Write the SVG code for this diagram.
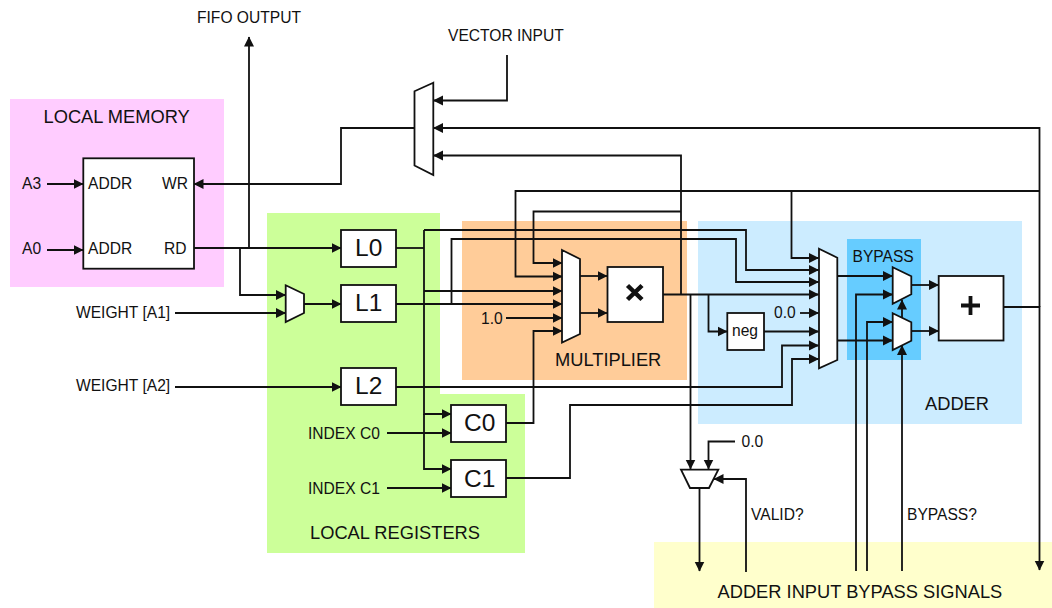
<svg xmlns="http://www.w3.org/2000/svg" width="1052" height="608" viewBox="0 0 1052 608">
<style>
text{font-family:"Liberation Sans",Arial,sans-serif;fill:#111;font-size:15.6px}
.t{font-size:18.3px}
.b{font-size:24.5px}
.box{fill:#fff;stroke:#111;stroke-width:1.8}
.w{fill:none;stroke:#111;stroke-width:1.8}
.a{marker-end:url(#ah)}
</style>
<defs><marker id="ah" markerUnits="userSpaceOnUse" markerWidth="11" markerHeight="11" refX="9.500" refY="5.500" orient="auto"><path d="M0,0.500L10,5.500L0,10.500z" fill="#111"/></marker></defs>
<rect x="0" y="0" width="1052" height="608" fill="#fff"/>
<rect x="10" y="99" width="214" height="188" fill="#ffccff"/>
<path d="M267,213H440V394H525V553H267z" fill="#ccff99"/>
<rect x="462" y="221" width="225" height="159" fill="#ffcc99"/>
<rect x="698" y="221" width="324" height="203" fill="#ccecff"/>
<rect x="847" y="239" width="74" height="121" fill="#66ccff"/>
<rect x="654" y="542" width="398" height="66" fill="#ffffcc"/>
<g id="connectors">
<path class="w a" d="M249,248V37"/>
<path class="w a" d="M194,248H341"/>
<path class="w a" d="M240,248V295H285.500"/>
<path class="w a" d="M175,313H285.500"/>
<path class="w a" d="M304,304H341"/>
<path class="w a" d="M175,387H341"/>
<path class="w a" d="M47,184H83"/>
<path class="w a" d="M47,250H83"/>
<path class="w a" d="M415,128H341V184H194"/>
<path class="w a" d="M507,55V100.500H433.500"/>
<path class="w a" d="M1039.500,307V128H433.500"/>
<path class="w a" d="M1003,307H1039.500V570"/>
<path class="w a" d="M663,294.500H818.500"/>
<path class="w a" d="M681,294.500V155.500H433.500"/>
<path class="w a" d="M1039.500,191H515.500V276.500H562"/>
<path class="w a" d="M681,211.500H533.500V263H562"/>
<path class="w a" d="M791.500,191V258H818.500"/>
<path class="w" d="M396,248H424"/>
<path class="w a" d="M424,230H746V270H818.500"/>
<path class="w a" d="M451.500,304V239H736V282H818.500"/>
<path class="w a" d="M396,304H562"/>
<path class="w a" d="M424,291H562"/>
<path class="w a" d="M424,230V414H451"/>
<path class="w a" d="M424,414V469H451"/>
<path class="w a" d="M506,318H562"/>
<path class="w a" d="M506,423H533.500V331H562"/>
<path class="w a" d="M387,433H451"/>
<path class="w a" d="M387,488H451"/>
<path class="w a" d="M396,387H782V345.500H818.500"/>
<path class="w a" d="M506,478H570V405H792V359H818.500"/>
<path class="w a" d="M580,276H607"/>
<path class="w a" d="M580,313H607"/>
<path class="w a" d="M690.500,294.500V469"/>
<path class="w a" d="M708.500,294.500V331.500H727"/>
<path class="w a" d="M764,331.500H818.500"/>
<path class="w a" d="M800,313H818.500"/>
<path class="w a" d="M837,276H892.500"/>
<path class="w a" d="M837,340.500H892.500"/>
<path class="w a" d="M856,571V294.500H892.500"/>
<path class="w a" d="M867,571V322H892.500"/>
<path class="w a" d="M902,571V345.500"/>
<path class="w a" d="M902,318V300"/>
<path class="w a" d="M911,285H938.500"/>
<path class="w a" d="M911,331H938.500"/>
<path class="w a" d="M735,441.500H708.500V469"/>
<path class="w a" d="M699.500,488V571"/>
<path class="w a" d="M746,572V479H714"/>
</g>
<g id="local-memory"><rect class="box" x="83.300" y="158.300" width="110.700" height="110.400"/><text x="88" y="189">ADDR</text><text x="88" y="254">ADDR</text><text x="162" y="189">WR</text><text x="164" y="254">RD</text></g>
<g id="L0"><rect class="box" x="341" y="230" width="55" height="37"/><text class="b" x="355" y="256">L0</text></g>
<g id="L1"><rect class="box" x="341" y="285" width="55" height="37"/><text class="b" x="355" y="311">L1</text></g>
<g id="L2"><rect class="box" x="341" y="368" width="55" height="37"/><text class="b" x="355" y="394">L2</text></g>
<g id="C0"><rect class="box" x="451" y="405" width="55" height="37"/><text class="b" x="464" y="431">C0</text></g>
<g id="C1"><rect class="box" x="451" y="460" width="55" height="37"/><text class="b" x="464" y="487">C1</text></g>
<g id="weight-mux"><path class="box" d="M285.700,285.300L304,294V313L285.700,322z"/></g>
<g id="vector-mux"><path class="box" d="M433.300,82.700L414.500,91.300V165.500L433.300,175z"/></g>
<g id="mult-mux"><path class="box" d="M562,250L580,259V334L562,342.500z"/></g>
<g id="adder-mux"><path class="box" d="M819,248.700L837.300,257.700V360L819,368.300z"/></g>
<g id="bypass-mux-a"><path class="box" d="M892.700,267.300L911.300,276.300V294.300L892.700,303.700z"/></g>
<g id="bypass-mux-b"><path class="box" d="M892.700,313.300L911.300,322.300V340.700L892.700,350z"/></g>
<g id="valid-mux"><path class="box" d="M681,469.700H718.300L709,488H690z"/></g>
<g id="multiplier"><rect class="box" x="607.500" y="267" width="55.500" height="55"/><path d="M627.500,285.500L642,299.500M642,285.500L627.500,299.500" stroke="#111" stroke-width="4.500" fill="none"/></g>
<g id="adder"><rect class="box" x="938.700" y="276" width="64.800" height="64.500"/><path d="M961,305.500H980M970.500,296V315" stroke="#111" stroke-width="3.800" fill="none"/></g>
<g id="neg"><rect class="box" x="727.300" y="313" width="36.700" height="37"/><text x="732" y="336">neg</text></g>
<g id="labels">
<text x="197" y="23">FIFO OUTPUT</text>
<text x="448" y="41">VECTOR INPUT</text>
<text class="t" x="43.500" y="123">LOCAL MEMORY</text>
<text x="22" y="189">A3</text>
<text x="22" y="254">A0</text>
<text x="76" y="318">WEIGHT [A1]</text>
<text x="76" y="391">WEIGHT [A2]</text>
<text x="308" y="438.500">INDEX C0</text>
<text x="308" y="494">INDEX C1</text>
<text x="481" y="324">1.0</text>
<text class="t" x="310" y="539">LOCAL REGISTERS</text>
<text class="t" x="555" y="366">MULTIPLIER</text>
<text x="774" y="317.500">0.0</text>
<text x="852.500" y="262">BYPASS</text>
<text class="t" x="925" y="410">ADDER</text>
<text x="741.500" y="446.500">0.0</text>
<text x="751" y="520">VALID?</text>
<text x="907" y="520">BYPASS?</text>
<text class="t" x="717.500" y="598">ADDER INPUT BYPASS SIGNALS</text>
</g>
</svg>
